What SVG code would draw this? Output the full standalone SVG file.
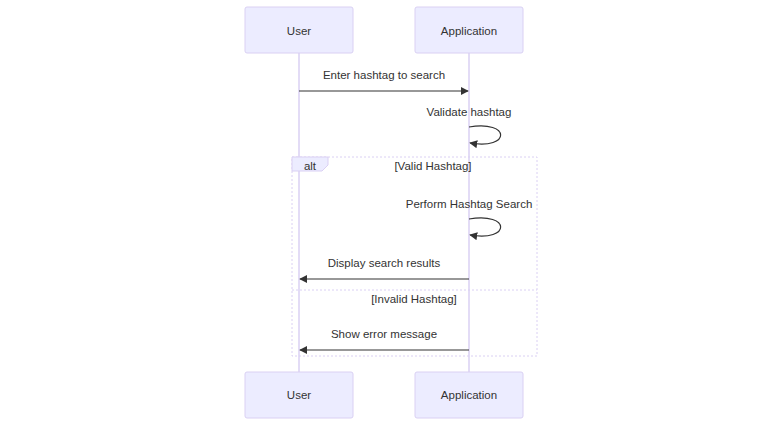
<svg xmlns="http://www.w3.org/2000/svg" width="783" height="426" viewBox="0 0 783 426">
<style>
.actor{fill:#ECECFF;stroke:#DAD0F3;stroke-width:1}
.life{stroke:#DAD0F3;stroke-width:1.5}
.t{font-family:"Liberation Sans",Arial,sans-serif;font-size:11.5px;fill:#333;text-anchor:middle}
.msg{stroke:#333;stroke-width:1.2;fill:none}
.loop{stroke:#DAD0F3;stroke-width:1;stroke-dasharray:2,2;fill:none}
</style>
<defs>
<marker id="arrow" viewBox="0 0 10 10" refX="9" refY="5" markerWidth="8" markerHeight="8" markerUnits="userSpaceOnUse" orient="auto">
<path d="M0,0 L10,5 L0,10 z" fill="#333"/>
</marker>
</defs>
<rect width="783" height="426" fill="#fff"/>
<g id="lifelines">
<line class="life" x1="299" y1="53" x2="299" y2="372"/>
<line class="life" x1="469" y1="53" x2="469" y2="372"/>
</g>
<g id="user-top"><rect class="actor" x="245" y="7" width="108" height="46" rx="2"/><text class="t" x="299" y="35">User</text></g>
<g id="app-top"><rect class="actor" x="415" y="7" width="108" height="46" rx="2"/><text class="t" x="469" y="35">Application</text></g>
<g id="user-bottom"><rect class="actor" x="245" y="372" width="108" height="46" rx="2"/><text class="t" x="299" y="399">User</text></g>
<g id="app-bottom"><rect class="actor" x="415" y="372" width="108" height="46" rx="2"/><text class="t" x="469" y="399">Application</text></g>
<g id="alt">
<rect class="loop" x="292" y="157" width="245" height="199"/>
<line class="loop" x1="292" y1="290" x2="537" y2="290"/>
<polygon points="292,157 328,157 328,165 322,171 292,171" fill="#ECECFF" stroke="#DAD0F3" stroke-width="1"/>
<text class="t" x="310" y="170">alt</text>
<text class="t" x="433" y="170">[Valid Hashtag]</text>
<text class="t" x="414" y="303">[Invalid Hashtag]</text>
</g>
<g id="connectors">
<line class="msg" x1="299" y1="91" x2="468" y2="91" marker-end="url(#arrow)"/>
<text class="t" x="384" y="79">Enter hashtag to search</text>
<path class="msg" d="M469,127 C511,120 511,150 470,143" marker-end="url(#arrow)"/>
<text class="t" x="469" y="116">Validate hashtag</text>
<path class="msg" d="M469,219 C511,212 511,242 470,235" marker-end="url(#arrow)"/>
<text class="t" x="469" y="208">Perform Hashtag Search</text>
<line class="msg" x1="469" y1="279" x2="300" y2="279" marker-end="url(#arrow)"/>
<text class="t" x="384" y="267">Display search results</text>
<line class="msg" x1="469" y1="350" x2="300" y2="350" marker-end="url(#arrow)"/>
<text class="t" x="384" y="338">Show error message</text>
</g>
</svg>
